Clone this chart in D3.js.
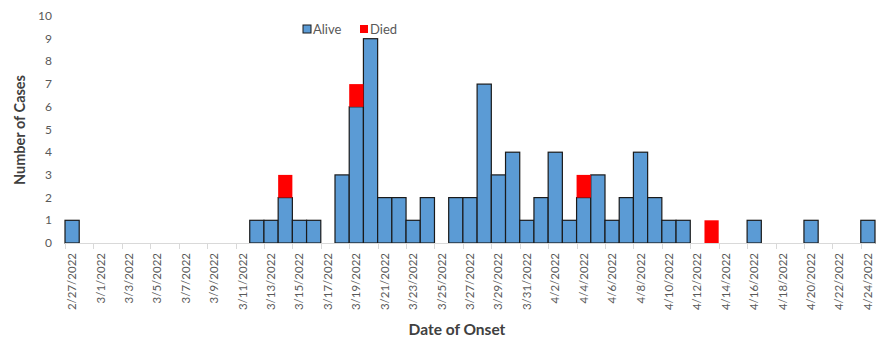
<!DOCTYPE html>
<html>
<head>
<meta charset="utf-8">
<script src="https://cdn.jsdelivr.net/npm/d3@7"></script>
<style>
  body { margin: 0; background: #fff; }
  text { font-family: Lato, "Open Sans", sans-serif; }
</style>
</head>
<body>
<div class="chart"></div>
<script>
// onset dates, 2/27/2022 .. 4/24/2022
var dates = [
  "2/27/2022", "2/28/2022",
  "3/1/2022", "3/2/2022", "3/3/2022", "3/4/2022", "3/5/2022", "3/6/2022", "3/7/2022", "3/8/2022",
  "3/9/2022", "3/10/2022", "3/11/2022", "3/12/2022", "3/13/2022", "3/14/2022", "3/15/2022", "3/16/2022",
  "3/17/2022", "3/18/2022", "3/19/2022", "3/20/2022", "3/21/2022", "3/22/2022", "3/23/2022", "3/24/2022",
  "3/25/2022", "3/26/2022", "3/27/2022", "3/28/2022", "3/29/2022", "3/30/2022", "3/31/2022",
  "4/1/2022", "4/2/2022", "4/3/2022", "4/4/2022", "4/5/2022", "4/6/2022", "4/7/2022", "4/8/2022",
  "4/9/2022", "4/10/2022", "4/11/2022", "4/12/2022", "4/13/2022", "4/14/2022", "4/15/2022", "4/16/2022",
  "4/17/2022", "4/18/2022", "4/19/2022", "4/20/2022", "4/21/2022", "4/22/2022", "4/23/2022", "4/24/2022"
];
var alive = [
  1, 0,
  0, 0, 0, 0, 0, 0, 0, 0,
  0, 0, 0, 1, 1, 2, 1, 1,
  0, 3, 6, 9, 2, 2, 1, 2,
  0, 2, 2, 7, 3, 4, 1,
  2, 4, 1, 2, 3, 1, 2, 4,
  2, 1, 1, 0, 0, 0, 0, 1,
  0, 0, 0, 1, 0, 0, 0, 1
];
var died = [
  0, 0,
  0, 0, 0, 0, 0, 0, 0, 0,
  0, 0, 0, 0, 0, 1, 0, 0,
  0, 0, 1, 0, 0, 0, 0, 0,
  0, 0, 0, 0, 0, 0, 0,
  0, 0, 0, 1, 0, 0, 0, 0,
  0, 0, 0, 0, 1, 0, 0, 0,
  0, 0, 0, 0, 0, 0, 0, 0
];
var yTicks = [0, 1, 2, 3, 4, 5, 6, 7, 8, 9, 10];
var seriesNames = ["Alive", "Died"];
var seriesColors = ["#5b9bd5", "#ff0000"];

var width = 888, height = 348;

var svg = d3.select(".chart").append("svg")
  .attr("width", width)
  .attr("height", height);

var x = d3.scaleBand().domain(dates).range([65, 875]).padding(0);
var y = d3.scaleLinear().domain([0, 10]).range([243, 16]);

var rows = dates.map(function (d, i) {
  return { date: d, Alive: alive[i], Died: died[i] };
});
var stacked = d3.stack().keys(seriesNames)(rows);

// bars
svg.append("g").selectAll("g")
  .data(stacked)
  .enter()
  .append("g")
  .attr("fill", function (d, i) { return seriesColors[i]; })
  .selectAll("rect")
  .data(function (d) { return d.filter(function (p) { return p[1] > p[0]; }); })
  .enter()
  .append("rect")
  .attr("x", function (p) { return x(p.data.date); })
  .attr("y", function (p) { return y(p[1]); })
  .attr("width", x.bandwidth())
  .attr("height", function (p) { return y(p[0]) - y(p[1]); })
  .attr("stroke", function () {
    return d3.select(this.parentNode).datum().key == "Alive" ? "#1a1a1a" : "none";
  })
  .attr("stroke-width", 1.2);

// x axis line + ticks every 2 days at left edges
var xa = svg.append("g");
xa.append("line")
  .attr("x1", 65).attr("x2", 875)
  .attr("y1", 243.5).attr("y2", 243.5)
  .attr("stroke", "#d9d9d9");
var labelled = dates.filter(function (d, i) { return i % 2 == 0; });
xa.selectAll(".tk")
  .data(labelled)
  .enter()
  .append("line")
  .attr("x1", function (d) { return Math.round(x(d)) + 0.5; })
  .attr("x2", function (d) { return Math.round(x(d)) + 0.5; })
  .attr("y1", 243).attr("y2", 249)
  .attr("stroke", "#d9d9d9");
xa.selectAll(".lbl")
  .data(labelled)
  .enter()
  .append("text")
  .attr("transform", function (d) {
    return "translate(" + (x(d) + x.bandwidth() / 2 + 4) + ",253) rotate(-90)";
  })
  .attr("text-anchor", "end")
  .attr("font-size", 11.5)
  .attr("fill", "#595959")
  .text(function (d) { return d; });

// y axis labels (no axis line)
svg.append("g").selectAll("text")
  .data(yTicks)
  .enter()
  .append("text")
  .attr("x", 52)
  .attr("y", function (d) { return y(d) + 4; })
  .attr("text-anchor", "end")
  .attr("font-size", 12)
  .attr("fill", "#595959")
  .text(function (d) { return d; });

// axis titles
svg.append("text")
  .attr("transform", "translate(25,130) rotate(-90)")
  .attr("text-anchor", "middle")
  .attr("font-size", 14.5)
  .attr("font-weight", "bold")
  .attr("fill", "#404040")
  .text("Number of Cases");
svg.append("text")
  .attr("x", 457).attr("y", 335)
  .attr("text-anchor", "middle")
  .attr("font-size", 15.5)
  .attr("font-weight", "bold")
  .attr("fill", "#404040")
  .text("Date of Onset");

// legend
var legend = svg.append("g");
var legX = [303, 360];
seriesNames.forEach(function (name, i) {
  legend.append("rect")
    .attr("x", legX[i]).attr("y", 25)
    .attr("width", 8).attr("height", 8)
    .attr("fill", seriesColors[i])
    .attr("stroke", i == 0 ? "#1a1a1a" : "none");
  legend.append("text")
    .attr("x", legX[i] + 10).attr("y", 34)
    .attr("font-size", 13)
    .attr("fill", "#595959")
    .text(name);
});
</script>
</body>
</html>
